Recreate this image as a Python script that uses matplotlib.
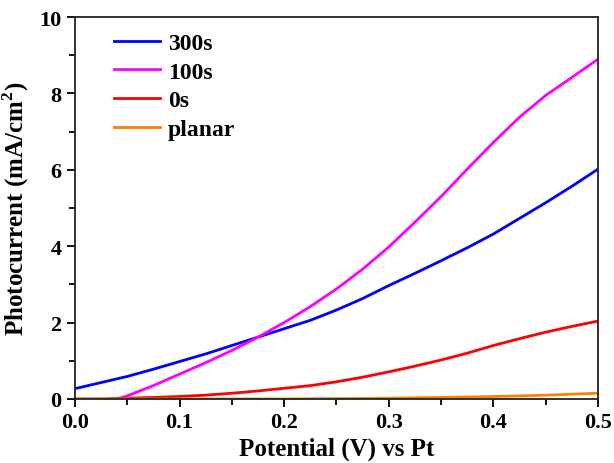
import matplotlib
matplotlib.use("Agg")
import matplotlib.pyplot as plt
from matplotlib.ticker import MultipleLocator

plt.rcParams["font.family"] = ["Liberation Serif", "DejaVu Serif"]
plt.rcParams["font.weight"] = "bold"
plt.rcParams["mathtext.fontset"] = "custom"
plt.rcParams["mathtext.rm"] = "Liberation Serif:bold"
plt.rcParams["mathtext.bf"] = "Liberation Serif:bold"

# potential grid (V vs Pt)
potential = [0.0, 0.025, 0.05, 0.075, 0.1, 0.125, 0.15, 0.175, 0.2, 0.225, 0.25,
             0.275, 0.3, 0.325, 0.35, 0.375, 0.4, 0.425, 0.45, 0.475, 0.5]

# photocurrent, mA/cm^2
i_300s = [0.27, 0.43, 0.59, 0.78, 0.98, 1.18, 1.40, 1.62, 1.84, 2.06, 2.33,
          2.63, 2.97, 3.29, 3.62, 3.96, 4.32, 4.73, 5.14, 5.57, 6.02]
pot_100s = [0.04, 0.05, 0.075, 0.1, 0.125, 0.15, 0.175, 0.2, 0.225, 0.25,
            0.275, 0.3, 0.325, 0.35, 0.375, 0.4, 0.425, 0.45, 0.475, 0.5]
i_100s = [0.0, 0.08, 0.35, 0.65, 0.95, 1.27, 1.62, 2.0, 2.42, 2.88,
          3.4, 3.98, 4.63, 5.3, 6.02, 6.72, 7.38, 7.95, 8.42, 8.9]
i_0s = [0.0, 0.0, 0.02, 0.04, 0.065, 0.10, 0.15, 0.21, 0.28, 0.35, 0.45,
        0.57, 0.71, 0.86, 1.02, 1.2, 1.40, 1.58, 1.75, 1.9, 2.04]
i_planar = [0.0, 0.0, 0.0, 0.0, 0.0, 0.0, 0.0, 0.0, 0.0, 0.005, 0.01,
            0.015, 0.02, 0.03, 0.04, 0.05, 0.065, 0.08, 0.10, 0.125, 0.15]

fig = plt.figure(figsize=(6.14, 4.64), dpi=100)
ax = fig.add_axes([0.122, 0.138, 0.852, 0.823])

ax.plot(potential, i_300s, color="#0000ff", lw=2.0, label="300s")
ax.plot(pot_100s, i_100s, color="#ff00ff", lw=2.0, label="100s")
ax.plot(potential, i_0s, color="#ff0000", lw=2.0, label="0s")
ax.plot(potential, i_planar, color="#ff8000", lw=2.0, label="planar")

ax.set_xlim(0, 0.5)
ax.set_ylim(0, 10)
ax.xaxis.set_major_locator(MultipleLocator(0.1))
ax.xaxis.set_minor_locator(MultipleLocator(0.05))
ax.yaxis.set_major_locator(MultipleLocator(2))
ax.yaxis.set_minor_locator(MultipleLocator(1))
ax.tick_params(which="both", direction="out", top=False, right=False,
               width=1.3, labelsize=16)
ax.tick_params(which="major", length=6)
ax.tick_params(which="minor", length=4)
for lbl in ax.get_xticklabels() + ax.get_yticklabels():
    lbl.set_fontweight("bold")
for s in ax.spines.values():
    s.set_linewidth(1.3)
    s.set_color("#222222")

ax.set_xlabel("Potential (V) vs Pt", fontsize=18, fontweight="bold", labelpad=3)
ax.set_ylabel(r"Photocurrent (mA/cm$^{\mathbf{2}}$)", fontsize=18,
              fontweight="bold", labelpad=6)

ax.legend(loc="upper left", frameon=False, handlelength=1.95,
          handletextpad=0.35, labelspacing=0.3, borderaxespad=0.25,
          bbox_to_anchor=(0.045, 1.0), prop={"weight": "bold", "size": 17})

fig.savefig("out.png", dpi=100)
